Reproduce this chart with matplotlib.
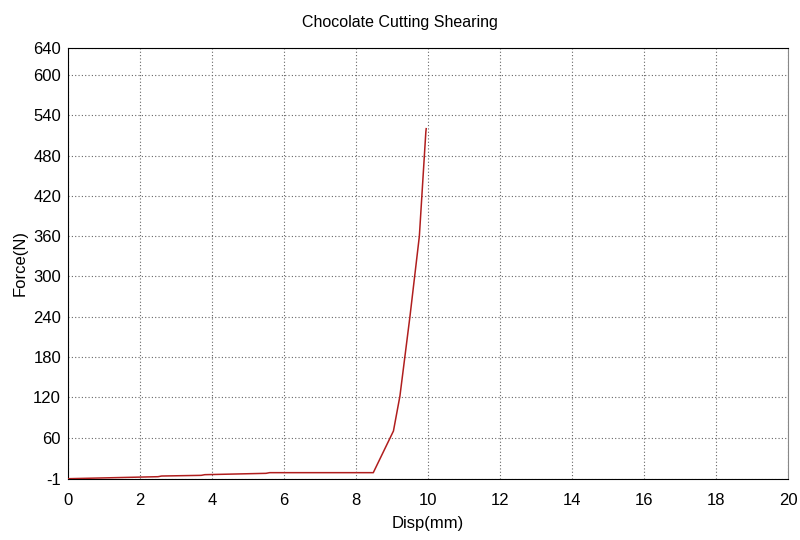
import matplotlib
matplotlib.use('Agg')
from matplotlib import pyplot as plt

plt.rcParams['font.family'] = ['Liberation Sans', 'DejaVu Sans']
plt.rcParams['axes.unicode_minus'] = False

# displacement (mm) and force (N) readings
disp = [0, 2.5, 2.6, 3.7, 3.8, 5.5, 5.6, 8.48, 9.04, 9.22, 9.5, 9.76, 9.94, 9.95]
force = [-1, 2, 3, 4, 5, 7, 8, 8, 70, 122, 241, 360, 515, 520]

x_ticks = [0, 2, 4, 6, 8, 10, 12, 14, 16, 18, 20]
y_ticks = [-1, 60, 120, 180, 240, 300, 360, 420, 480, 540, 600, 640]

fig = plt.figure(figsize=(8, 5.4), dpi=100)
ax = fig.add_axes([0.085, 0.1135, 0.9, 0.7975])

ax.plot(disp, force, color='#b01e1e', lw=1.1, zorder=3)

ax.set_xlim(0, 20)
ax.set_ylim(-1, 640)
ax.set_xticks(x_ticks)
ax.set_yticks(y_ticks)
ax.grid(True, color='#666666', linestyle=(0, (1, 2)), lw=0.8)
ax.tick_params(length=0, labelsize=12)
ax.tick_params(axis='x', pad=10)
ax.tick_params(axis='y', pad=5)

ax.spines['left'].set_color('black')
ax.spines['top'].set_color('black')
ax.spines['right'].set_color('#888888')
ax.spines['bottom'].set_color('black')
ax.spines['bottom'].set_linestyle((0, (1, 1)))

ax.set_xlabel('Disp(mm)', fontsize=12, labelpad=6)
ax.set_ylabel('Force(N)', fontsize=12, labelpad=4)
fig.text(0.5, 0.972, 'Chocolate Cutting Shearing', ha='center', va='top', fontsize=11.5)

fig.savefig('out.png', dpi=100)
